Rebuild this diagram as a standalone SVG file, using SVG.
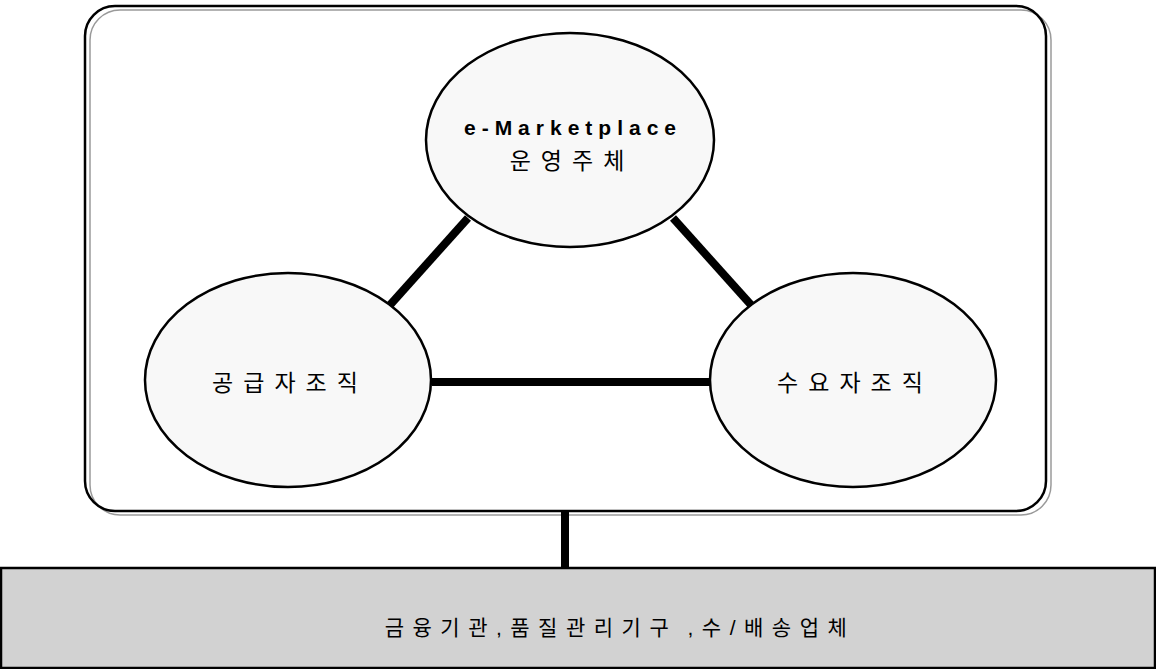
<svg xmlns="http://www.w3.org/2000/svg" width="1156" height="669" viewBox="0 0 1156 669">
<defs>
<style>
.ell{fill:#f8f8f8;stroke:#000;stroke-width:2.5}
.con{stroke:#000;stroke-width:8;fill:none}
.lbl{font-family:"Liberation Sans","Noto Sans CJK KR",sans-serif;font-size:23px;fill:#000;text-anchor:middle;letter-spacing:10px}
.en{font-family:"Liberation Sans",sans-serif;font-size:21px;font-weight:bold;fill:#000;text-anchor:middle;letter-spacing:6px}
</style>
</defs>
<rect width="1156" height="669" fill="#fff"/>
<g id="frame">
<rect x="90" y="10" width="961" height="505" rx="30" fill="none" stroke="#9a9a9a" stroke-width="1.5"/>
<rect x="85" y="6" width="961" height="505" rx="30" fill="none" stroke="#000" stroke-width="2.5"/>
</g>
<g id="connectors">
<line class="con" x1="390" y1="305" x2="468" y2="218"/>
<line class="con" x1="673" y1="218" x2="752" y2="306"/>
<line class="con" x1="432" y1="382" x2="710" y2="382" stroke-width="7"/>
<line class="con" x1="565" y1="512" x2="565" y2="569" stroke-width="7"/>
</g>
<g id="node-operator">
<ellipse class="ell" cx="570" cy="140" rx="144" ry="107"/>
<text class="en" x="573" y="135">e-Marketplace</text>
<text class="lbl" x="572" y="169">운영주체</text>
</g>
<g id="node-supplier">
<ellipse class="ell" cx="288" cy="380" rx="143" ry="107"/>
<text class="lbl" x="290" y="391">공급자조직</text>
</g>
<g id="node-buyer">
<ellipse class="ell" cx="853" cy="380" rx="143" ry="107"/>
<text class="lbl" x="855" y="391">수요자조직</text>
</g>
<g id="node-support">
<rect x="1" y="568" width="1154" height="100" fill="#d2d2d2" stroke="#000" stroke-width="2.5"/>
<text class="lbl" x="620" y="635" style="font-size:21px;letter-spacing:8.5px;word-spacing:-4px">금융기관,품질관리기구 ,수/배송업체</text>
</g>
</svg>
